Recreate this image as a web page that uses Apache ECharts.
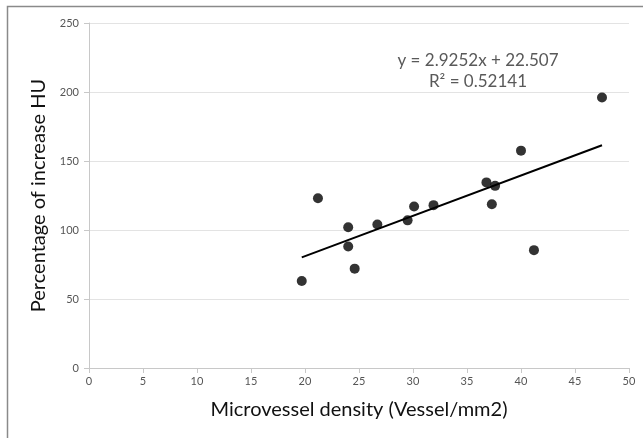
<!DOCTYPE html>
<html>
<head>
<meta charset="utf-8">
<script src="https://cdn.jsdelivr.net/npm/echarts@6/dist/echarts.min.js"></script>
<style>html,body{margin:0;padding:0;background:#fff;}#c{width:643px;height:438px;}</style>
</head>
<body>
<div id="c"></div>
<script>
const densityX = [19.7, 21.2, 24.0, 24.0, 24.6, 26.7, 29.5, 30.1, 31.9, 36.8, 37.6, 37.3, 40.0, 41.2, 47.5];
const increaseY = [63, 123, 102, 88, 72, 104, 107, 117, 118, 134.5, 132, 118.7, 157.5, 85.4, 196];
const trendSlope = 2.9252;
const trendIntercept = 22.507;
const trendRange = [19.7, 47.5];
const xTicks = [0, 5, 10, 15, 20, 25, 30, 35, 40, 45, 50];
const yTicks = [0, 50, 100, 150, 200, 250];
const eqLine1 = 'y = 2.9252x + 22.507';
const eqLine2 = 'R² = 0.52141';

const font = 'Lato, "Open Sans", sans-serif';
const chart = echarts.init(document.getElementById('c'), null, {renderer: 'canvas'});
chart.setOption({
  animation: false,
  backgroundColor: '#fff',
  grid: {left: 89, right: 14, top: 23, bottom: 70, containLabel: false},
  xAxis: {
    type: 'value', min: 0, max: 50, interval: 5,
    name: 'Microvessel density (Vessel/mm2)', nameLocation: 'middle', nameGap: 32,
    nameTextStyle: {fontSize: 20, color: '#111', fontFamily: font},
    axisLine: {show: true, lineStyle: {color: '#c8c8c8', width: 1}},
    axisTick: {show: true, length: 5, lineStyle: {color: '#c8c8c8'}},
    axisLabel: {fontSize: 11, color: '#555', fontFamily: font, margin: 8},
    splitLine: {show: false}
  },
  yAxis: {
    type: 'value', min: 0, max: 250, interval: 50,
    name: 'Percentage of increase HU', nameLocation: 'middle', nameGap: 36,
    nameTextStyle: {fontSize: 20, color: '#111', fontFamily: font},
    axisLine: {show: true, lineStyle: {color: '#c8c8c8', width: 1}},
    axisTick: {show: true, length: 5, lineStyle: {color: '#c8c8c8'}},
    axisLabel: {fontSize: 11, color: '#555', fontFamily: font, margin: 10},
    splitLine: {show: true, lineStyle: {color: '#e3e3e3', width: 1}}
  },
  series: [
    {
      type: 'line',
      data: trendRange.map(x => [x, trendSlope * x + trendIntercept]),
      symbol: 'none',
      lineStyle: {color: '#000', width: 2},
      z: 2
    },
    {
      type: 'scatter',
      data: densityX.map((x, i) => [x, increaseY[i]]),
      symbol: 'circle',
      symbolSize: 10,
      itemStyle: {color: '#000'},
      z: 3
    }
  ],
  graphic: [
    {type: 'rect', shape: {x: 7.5, y: 6.5, width: 700, height: 500}, style: {fill: 'none', stroke: '#8a8a8a', lineWidth: 1.5}, silent: true, z: 0},
    {type: 'text', x: 478, y: 61, style: {text: eqLine1, fill: '#595959', fontSize: 17, fontFamily: font, align: 'center', verticalAlign: 'middle'}},
    {type: 'text', x: 478, y: 82, style: {text: eqLine2, fill: '#595959', fontSize: 17, fontFamily: font, align: 'center', verticalAlign: 'middle'}}
  ]
});
</script>
</body>
</html>
